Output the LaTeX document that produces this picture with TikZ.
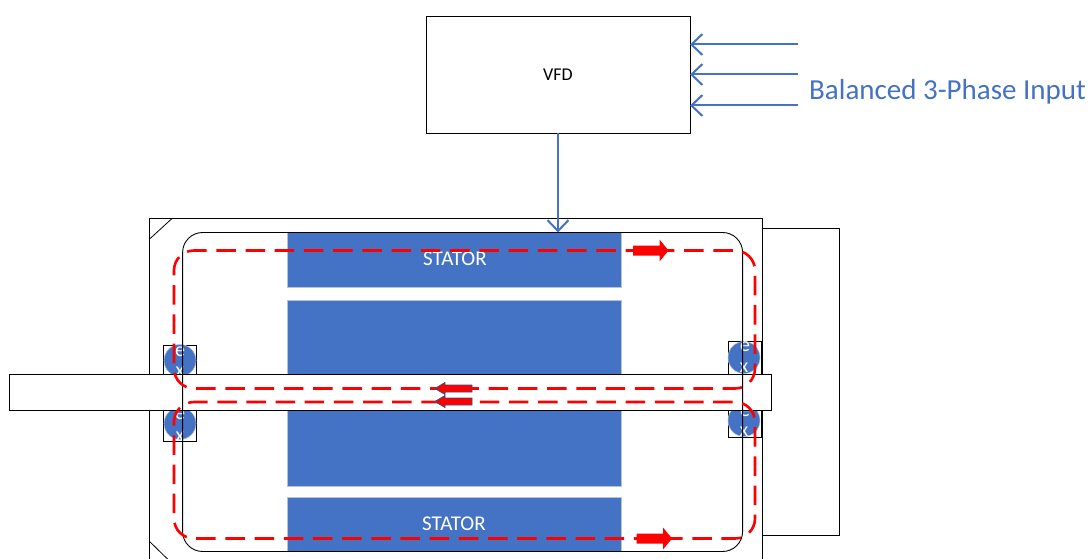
\documentclass[tikz,border=0pt]{standalone}
\usepackage{fontspec}
\setmainfont{Carlito}
\usetikzlibrary{arrows.meta}
\definecolor{blu}{HTML}{4472C4}
\definecolor{bluedge}{HTML}{B4C1DC}
\tikzset{
  x=1pt,y=-1pt,
  outline/.style={draw=black,line width=1pt,fill=white,inner sep=0pt,outer sep=0pt},
  solidblue/.style={draw=bluedge,line width=1pt,fill=blu,inner sep=0pt,outer sep=0pt},
  stattxt/.style={text=white,inner sep=0pt,font=\fontsize{21}{21}\selectfont},
  feed/.style={draw=blu,line width=2pt,-{Straight Barb[length=11pt,width=21pt,line width=2pt]}},
  flowloop/.style={draw=red,line width=2.6pt,rounded corners=20pt},
  bearing/.style={circle,fill=blu,draw=bluedge,line width=.6pt,minimum size=32pt,inner sep=0pt},
  bearingbox/.style={draw=black,line width=.7pt,fill=white,anchor=north west,minimum width=33pt,inner sep=0pt},
  bearingtxt/.style={text=white,inner sep=0pt,font=\fontsize{20}{20}\selectfont},
  bigarrow/.pic={\fill[red] (-17.5,-5) -- (9,-5) -- (9,-11) -- (18,0) -- (9,11) -- (9,5) -- (-17.5,5) -- cycle;},
  smallarrow/.pic={\filldraw[fill=red,draw=blu!70!black,line width=.8pt] (18.5,-3.5) -- (-8.5,-3.5) -- (-8.5,-6) -- (-18.5,0) -- (-8.5,6) -- (-8.5,3.5) -- (18.5,3.5) -- cycle;},
}
\begin{document}
\begin{tikzpicture}
\useasboundingbox[fill=white] (0,-0.5) rectangle (1090,558.5);
% VFD
\node[outline,anchor=north west,minimum width=264pt,minimum height=117pt,font=\fontsize{18}{18}\selectfont] (vfd) at (426,16) {VFD};
\node[text=blu,anchor=west,inner sep=0pt,font=\fontsize{29}{30}\selectfont] (inputlabel) at (809,91) {Balanced 3-Phase Input};
% inputs
\coordinate (ia) at (798,44);
\coordinate (ib) at (798,74);
\coordinate (ic) at (798,105);
\draw[feed] (ia) -- (ia -| vfd.east);
\draw[feed] (ib) -- (ib -| vfd.east);
\draw[feed] (ic) -- (ic -| vfd.east);
% motor casing and fan
\draw[line width=1pt] (149.6,558.5) -- (149.6,218) -- (762.6,218) -- (762.6,558.5);
\draw[line width=.8pt] (149.6,238.5) -- (172,218);
\draw[line width=.8pt] (149.6,541) -- (167.5,558.5);
\node[outline,anchor=north west,minimum width=77pt,minimum height=307pt] (fan) at (762.6,228) {};
% stator and rotor
\node[solidblue,anchor=north west,minimum width=333.4pt,minimum height=55pt] (stA) at (287.6,232) {};
\node[stattxt] (stAt) at (455,258.5) {STATOR};
\node[solidblue,anchor=north west,minimum width=333.4pt,minimum height=186pt] (rotor) at (287.6,300) {};
\node[solidblue,anchor=north west,minimum width=333.4pt,minimum height=54pt] (stB) at (287.6,497) {};
\node[stattxt] (stBt) at (454,523.5) {STATOR};
% bearings
\node[bearingbox,minimum height=32pt] (bxa) at (163,344) {};
\node[bearingbox,minimum height=32pt] (bxb) at (163,408) {};
\node[bearingbox,minimum height=36pt] (bxc) at (728,340) {};
\node[bearingbox,minimum height=28pt] (bxd) at (728,408) {};
\node[bearing] (ba) at (180,360) {};
\node[bearing] (bb) at (180,423) {};
\node[bearing] (bc) at (744,357) {};
\node[bearing] (bd) at (744,420) {};
\node[bearingtxt] (bae) at (180,351) {e};
\node[bearingtxt] (bax) at (180,371) {x};
\node[bearingtxt] (bbe) at (180,414) {e};
\node[bearingtxt] (bbx) at (180,436) {x};
\node[bearingtxt] (bce) at (745,346) {e};
\node[bearingtxt] (bcx) at (744,367) {x};
\node[bearingtxt] (bde) at (745,411) {e};
\node[bearingtxt] (bdx) at (744,431) {x};
% shaft
\node[outline,anchor=north west,minimum width=761.4pt,minimum height=36pt] (shaft) at (9.6,374) {};
% inner frame
\draw[line width=.9pt,rounded corners=20pt] (182.6,232) rectangle (742.6,551);
% feed from VFD
\draw[feed] (vfd.south) -- (vfd.south |- stA.north);
% flux loops
\draw[flowloop,dash pattern=on 19.5pt off 9.74pt,dash phase=25.3pt] (300,250) -- (755,250) -- (755,388) -- (174,388) -- (174,250) -- (300,250);
\draw[flowloop,dash pattern=on 19.5pt off 9.68pt,dash phase=24.5pt] (300,401.5) -- (755,401.5) -- (755,538) -- (174,538) -- (174,401.5) -- (300,401.5);
% direction arrows
\path (650.5,250) pic {bigarrow};
\path (654,538) pic {bigarrow};
\path (453.5,388) pic {smallarrow};
\path (453.5,401) pic {smallarrow};
\end{tikzpicture}
\end{document}
